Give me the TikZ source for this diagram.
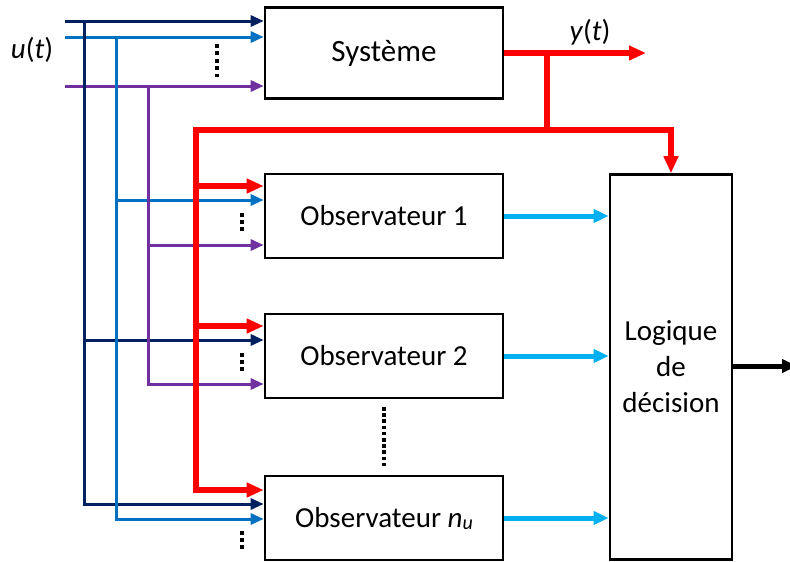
\documentclass[tikz,border=0pt]{standalone}
\usepackage{fontspec}
\setmainfont{Carlito}
\usetikzlibrary{arrows.meta}
\definecolor{navyc}{HTML}{002060}
\definecolor{bluec}{HTML}{0070C0}
\definecolor{purplec}{HTML}{7030A0}
\definecolor{redc}{HTML}{FF0000}
\definecolor{cyanc}{HTML}{00B0F0}
\begin{document}
\begin{tikzpicture}[x=1pt,y=-1pt,
  box/.style={draw=black,line width=2.6pt,minimum width=238pt,minimum height=84pt,
    inner sep=0pt,font=\fontsize{29}{35}\selectfont},
  thin/.style={line width=3pt,line join=miter},
  thinarrow/.style={thin,-{Triangle[length=13pt,width=11pt]}},
  redline/.style={draw=redc,line width=5.5pt,line join=miter},
  redarrow/.style={redline,-{Triangle[length=17pt,width=14pt]}},
  outarrow/.style={line width=5pt,-{Triangle[length=15pt,width=13pt]}},
  dotcol/.style={line width=4pt,dash pattern=on 3.8pt off 3.6pt},
  lbl/.style={font=\fontsize{29}{35}\selectfont,inner sep=0pt}
]
\useasboundingbox (0,0) rectangle (790,562);

% blocks
\node[box,minimum height=91pt,font=\fontsize{31}{37}\selectfont] (sys) at (384,53) {Système};
\node[box] (obs1) at (384,216) {Observateur 1};
\node[box] (obs2) at (384,356) {Observateur 2};
\node[box] (obsn) at (384,518) {Observateur \textit{n}\raisebox{-2pt}{\fontsize{20}{20}\selectfont\textit{u}}};
\node[box,minimum width=122pt,minimum height=385pt,align=center,
  font=\fontsize{29}{36}\selectfont] (logic) at (671,367)
  {Logique\\de\\décision};

% labels
\node[lbl] (ulab) at (32,50) {\textit{u}(\textit{t})};
\node[lbl] (ylab) at (590,32) {\textit{y}(\textit{t})};

% input signals u(t)
\coordinate (nS) at (65,21);
\coordinate (bS) at (65,37);
\coordinate (pS) at (65,86);
\coordinate (nA) at (84,21);
\coordinate (bA) at (116,37);
\coordinate (pA) at (148,86);
\coordinate (n2) at (84,340);
\coordinate (nN) at (84,504);
\coordinate (b1) at (116,200);
\coordinate (bN) at (116,519);
\coordinate (p1) at (148,245);
\coordinate (p2) at (148,384);

\draw[thinarrow,navyc] (nS) -- (nS -| sys.west);
\draw[thinarrow,bluec] (bS) -- (bS -| sys.west);
\draw[thinarrow,purplec] (pS) -- (pS -| sys.west);

\draw[thinarrow,navyc] (nA) -- (nN) -- (nN -| obsn.west);
\draw[thinarrow,navyc] (n2) -- (n2 -| obs2.west);
\draw[thinarrow,bluec] (bA) -- (bN) -- (bN -| obsn.west);
\draw[thinarrow,bluec] (b1) -- (b1 -| obs1.west);
\draw[thinarrow,purplec] (pA) -- (p2) -- (p2 -| obs2.west);
\draw[thinarrow,purplec] (p1) -- (p1 -| obs1.west);

% output y(t) and its distribution
\coordinate (yout) at (646,53);
\coordinate (rb) at (547,53);
\coordinate (rt) at (547,130);
\coordinate (rl) at (196,130);
\coordinate (r1) at (196,186);
\coordinate (r2) at (196,326);
\coordinate (rn) at (196,490);

\draw[redarrow] (sys.east) -- (yout);
\draw[redline] (rb) -- (rt);
\draw[redarrow] (rt) -- (rt -| logic.north) -- (logic.north);
\draw[redarrow] (rt) -- (rl) -- (rn) -- (rn -| obsn.west);
\draw[redarrow] (r1) -- (r1 -| obs1.west);
\draw[redarrow] (r2) -- (r2 -| obs2.west);

% residuals to the decision logic
\draw[outarrow,cyanc] (obs1.east) -- (obs1.east -| logic.west);
\draw[outarrow,cyanc] (obs2.east) -- (obs2.east -| logic.west);
\draw[outarrow,cyanc] (obsn.east) -- (obsn.east -| logic.west);

% decision output
\coordinate (dec) at (797,366);
\draw[outarrow,black,line width=5pt] (logic.east |- dec) -- (dec);

% ellipsis dots
\coordinate (ds1) at (217,44);
\coordinate (ds2) at (217,80);
\coordinate (d11) at (242,213);
\coordinate (d12) at (242,232);
\coordinate (d21) at (242,353);
\coordinate (d22) at (242,372);
\coordinate (dn1) at (242,531);
\coordinate (dn2) at (242,550);
\coordinate (dm1) at (384,407);
\coordinate (dm2) at (384,467);
\draw[dotcol] (ds1) -- (ds2);
\draw[dotcol,dash pattern=on 4pt off 3pt] (d11) -- (d12);
\draw[dotcol,dash pattern=on 4pt off 3pt] (d21) -- (d22);
\draw[dotcol,dash pattern=on 4pt off 3pt] (dn1) -- (dn2);
\draw[dotcol,line width=3.6pt,dash pattern=on 3.5pt off 2.7pt] (dm1) -- (dm2);
\end{tikzpicture}
\end{document}
